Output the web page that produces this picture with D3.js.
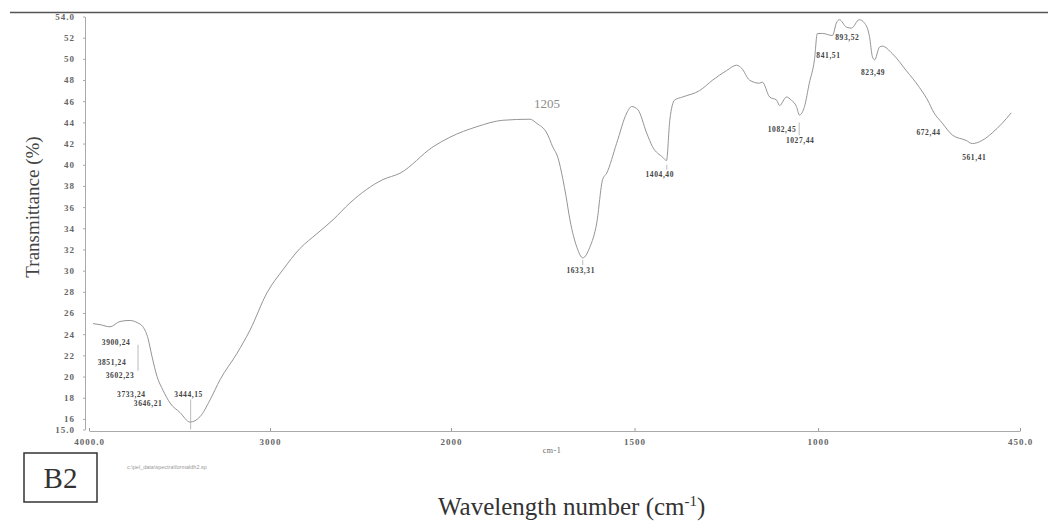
<!DOCTYPE html>
<html>
<head>
<meta charset="utf-8">
<script src="https://cdn.jsdelivr.net/npm/d3@7"></script>
<style>
  body { margin: 0; background: #fff; }
  svg { display: block; }
</style>
</head>
<body>
<script>
const wavenumbers = [3978, 3939, 3884, 3829, 3773, 3735, 3702, 3674, 3652, 3624,
  3591, 3552, 3497, 3442, 3387, 3331, 3276, 3182, 3110, 3017,
  2928, 2834, 2740, 2652, 2558, 2376, 2282, 2099, 2006, 1929,
  1859, 1785, 1766, 1739, 1723, 1709, 1695, 1687, 1676, 1657,
  1641, 1622, 1603, 1587, 1576, 1549, 1521, 1508, 1491, 1467,
  1451, 1423, 1413, 1404, 1391, 1369, 1323, 1287, 1249, 1222,
  1208, 1187, 1160, 1152, 1132, 1113, 1105, 1086, 1073, 1059,
  1051, 1037, 1024, 1010, 1002, 988, 961, 950, 942, 923,
  909, 888, 874, 860, 852, 846, 833, 825, 798, 760,
  724, 697, 689, 661, 634, 597, 580, 553, 526, 499, 474]
const transmittance = [25.0, 24.9, 24.7, 25.2, 25.3, 25.1, 24.7, 23.6, 21.9, 20.0,
  18.7, 17.5, 16.6, 15.7, 16.2, 17.8, 19.7, 22.2, 24.4, 27.9,
  30.1, 32.1, 33.5, 34.8, 36.4, 38.6, 39.2, 41.7, 42.6, 43.6,
  44.2, 44.3, 43.9, 43.0, 41.7, 40.7, 38.6, 37.1, 34.8, 32.2,
  31.2, 32.2, 34.5, 38.6, 39.2, 42.0, 44.9, 45.5, 45.2, 43.0,
  41.7, 40.7, 40.4, 44.2, 46.1, 46.4, 47.0, 48.0, 48.9, 49.4,
  49.1, 48.0, 47.7, 47.8, 46.4, 46.1, 45.6, 46.4, 46.1, 45.5,
  44.7, 45.5, 47.7, 49.9, 52.4, 52.4, 52.2, 53.4, 53.7, 53.0,
  52.9, 53.7, 53.4, 52.1, 50.2, 49.9, 51.1, 51.2, 50.5, 48.9,
  47.3, 45.8, 45.2, 43.9, 42.8, 42.3, 42.0, 42.3, 43.0, 43.9, 44.9]

// peak picks printed by the instrument
const peakNames = ["3900,24", "3851,24", "3602,23", "3733,24", "3646,21", "3444,15",
  "1633,31", "1404,40", "1082,45", "1027,44", "841,51", "893,52", "823,49", "672,44", "561,41"]
const peakWn = [3900, 3851, 3602, 3733, 3646, 3444, 1633, 1404, 1082, 1027, 841, 893, 823, 672, 561]
const peakT = [24, 24, 23, 24, 21, 15, 31, 40, 45, 44, 51, 52, 49, 44, 41]

const xTickValues = [4000, 3000, 2000, 1500, 1000, 450]
const xTickLabels = ["4000.0", "3000", "2000", "1500", "1000", "450.0"]
const yTickValues = [15, 16, 18, 20, 22, 24, 26, 28, 30, 32, 34, 36, 38, 40, 42, 44, 46, 48, 50, 52, 54]
const yTickLabels = ["15.0", "16", "18", "20", "22", "24", "26", "28", "30", "32", "34", "36",
  "38", "40", "42", "44", "46", "48", "50", "52", "54.0"]

// label placement (offset from the peak point) and pick line shift, layout only
const peakOffsets = [[9, 8], [-4, 28], [-41, 31], [-6, 60], [-5, 37], [-1, -35],
  [-5, 10], [-10, 10], [-6, 18], [-8, 18], [-48, 7], [-10, 0], [-10, 3], [-10, 10], [-5, 3]]
const pickLineDx = [null, null, 18, null, null, 2, 2, 7, null, -1, null, null, null, null, null]

const width = 1048
const height = 532

const svg = d3.select('body')
  .append('svg')
  .attr('width', width)
  .attr('height', height)
  .attr('viewBox', [0, 0, width, height])

// the instrument doubles the scale below 2000 cm-1
const x = d3.scaleLinear()
  .domain([4000, 2000, 450])
  .range([89, 451, 1020])

const y = d3.scaleLinear()
  .domain([15, 54])
  .range([429.5, 16.5])

// frame line on top
svg.append('line')
  .attr('x1', 10).attr('x2', width)
  .attr('y1', 12.5).attr('y2', 12.5)
  .attr('stroke', '#555')
  .attr('stroke-width', 1.6)

const styleTickText = g => g.selectAll('text')
  .attr('font-family', 'Liberation Serif')
  .attr('font-weight', 'bold')
  .attr('font-size', 9)
  .attr('letter-spacing', 1)
  .attr('fill', '#666')

const xAxis = g => g
  .attr('transform', `translate(0,${y(15) + 1.5})`)
  .call(d3.axisBottom(x)
    .tickValues(xTickValues)
    .tickFormat((d, i) => xTickLabels[i])
    .tickSizeInner(-3)
    .tickSizeOuter(0)
    .tickPadding(8))
  .call(g => g.selectAll('.domain').attr('stroke', '#aaa'))
  .call(g => g.selectAll('.tick line').attr('stroke', '#999'))
  .call(styleTickText)

const yAxis = g => g
  .attr('transform', `translate(85,0)`)
  .call(d3.axisLeft(y)
    .tickValues(yTickValues)
    .tickFormat((d, i) => yTickLabels[i])
    .tickSize(2)
    .tickSizeOuter(0)
    .tickPadding(8))
  .call(g => g.selectAll('.domain').attr('stroke', '#aaa'))
  .call(g => g.selectAll('.tick line').attr('stroke', '#aaa'))
  .call(styleTickText)

svg.append('g').call(xAxis)
svg.append('g').call(yAxis)

// spectrum
const line = d3.line()
  .x(d => x(d[0]))
  .y(d => y(d[1]))
  .curve(d3.curveMonotoneX)

svg.append('path')
  .datum(wavenumbers.map((w, i) => [w, transmittance[i]]))
  .attr('fill', 'none')
  .attr('stroke', '#959595')
  .attr('stroke-width', 1)
  .attr('d', line)

// short pick lines between a band and its label
const picks = peakNames.map((d, i) => i).filter(i => pickLineDx[i] !== null)
svg.append('g')
  .attr('stroke', '#aaa')
  .attr('stroke-width', 0.8)
  .selectAll('line')
  .data(picks)
  .join('line')
    .attr('x1', i => x(peakWn[i]) + peakOffsets[i][0] + pickLineDx[i])
    .attr('x2', i => x(peakWn[i]) + peakOffsets[i][0] + pickLineDx[i])
    .attr('y1', i => y(peakT[i]))
    .attr('y2', i => y(peakT[i]) + peakOffsets[i][1] + (peakOffsets[i][1] > 0 ? -5 : 5))

// peak labels
svg.append('g')
  .selectAll('text')
  .data(peakNames)
  .join('text')
    .attr('x', (d, i) => x(peakWn[i]) + peakOffsets[i][0])
    .attr('y', (d, i) => y(peakT[i]) + peakOffsets[i][1])
    .attr('dy', '0.35em')
    .attr('text-anchor', 'middle')
    .attr('font-family', 'Liberation Serif')
    .attr('font-weight', 'bold')
    .attr('font-size', 7.5)
    .attr('letter-spacing', 0.6)
    .attr('fill', '#444')
    .text(d => d)

// hand written note on the broad band
svg.append('text')
  .attr('x', x(1785) + 17)
  .attr('y', y(44.3) - 16)
  .attr('dy', '0.35em')
  .attr('text-anchor', 'middle')
  .attr('font-family', 'Liberation Serif')
  .attr('font-size', 13)
  .attr('fill', '#8c8c8c')
  .text('1205')

svg.append('text')
  .attr('x', 552)
  .attr('y', 450)
  .attr('dy', '0.35em')
  .attr('text-anchor', 'middle')
  .attr('font-family', 'Liberation Serif')
  .attr('font-size', 8)
  .attr('letter-spacing', 0.5)
  .attr('fill', '#666')
  .text('cm-1')

svg.append('text')
  .attr('x', 127)
  .attr('y', 469)
  .attr('font-family', 'Liberation Sans')
  .attr('font-size', 5.5)
  .attr('fill', '#999')
  .text('c:\\pel_data\\spectra\\formaldh2.sp')

// axis titles
svg.append('text')
  .attr('transform', 'translate(32,207) rotate(-90)')
  .attr('dy', '0.35em')
  .attr('text-anchor', 'middle')
  .attr('font-family', 'Liberation Serif')
  .attr('font-size', 19)
  .attr('fill', '#444')
  .text('Transmittance (%)')

const xTitle = svg.append('text')
  .attr('x', 438)
  .attr('y', 515)
  .attr('font-family', 'Liberation Serif')
  .attr('font-size', 25)
  .attr('fill', '#333')
xTitle.append('tspan').text('Wavelength number (cm')
xTitle.append('tspan').attr('dy', -9).attr('font-size', 15).text('-1')
xTitle.append('tspan').attr('dy', 9).text(')')

// panel tag
svg.append('rect')
  .attr('x', 24).attr('y', 453)
  .attr('width', 73).attr('height', 49)
  .attr('fill', 'none')
  .attr('stroke', '#333')
  .attr('stroke-width', 1.5)

svg.append('text')
  .attr('x', 60.5)
  .attr('y', 478)
  .attr('dy', '0.35em')
  .attr('text-anchor', 'middle')
  .attr('font-family', 'Liberation Serif')
  .attr('font-size', 29)
  .attr('fill', '#333')
  .text('B2')
</script>
</body>
</html>
